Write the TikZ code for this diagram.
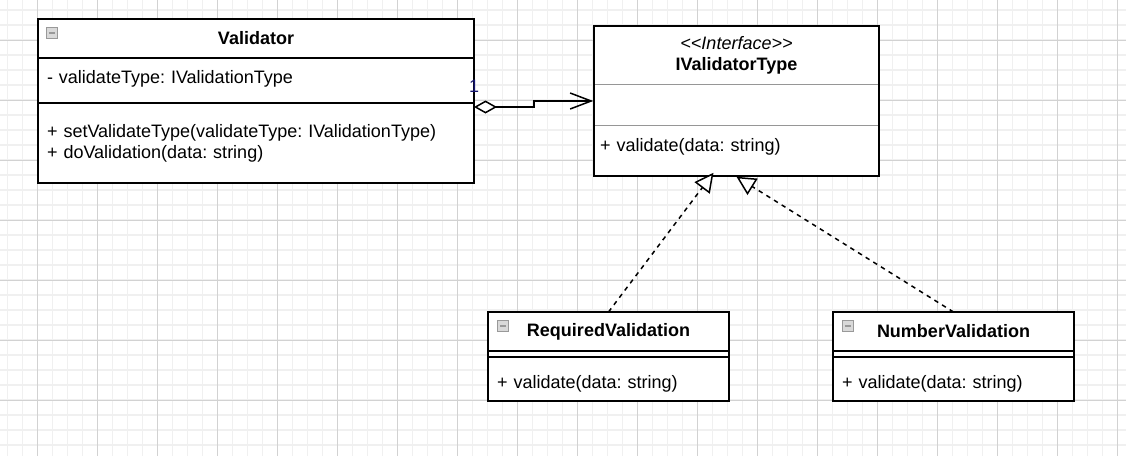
\documentclass[tikz,border=0pt]{standalone}
\usepackage{fontspec}
\setmainfont{Liberation Sans}
\usetikzlibrary{arrows.meta, positioning, fit}
\definecolor{gridminor}{RGB}{240,240,240}
\definecolor{gridmajor}{RGB}{210,210,210}
\definecolor{sepgray}{RGB}{150,150,150}
\definecolor{labelblue}{RGB}{20,20,110}
\frenchspacing

\begin{document}
\begin{tikzpicture}[x=1pt, y=-1pt, font=\fontsize{18}{21}\selectfont,
          head/.style={rectangle, draw=black, line width=1.5pt, fill=white, outer sep=0pt, inner sep=0pt, font=\fontsize{18}{21}\selectfont\bfseries},
          part/.style={rectangle, draw=black, line width=1.5pt, fill=white, outer sep=0pt, inner xsep=9pt, inner ysep=0pt, align=left},
          ihead/.style={rectangle, draw=sepgray, line width=0.8pt, fill=white, outer sep=0pt, inner sep=0pt, align=center},
          ipart/.style={rectangle, draw=sepgray, line width=0.8pt, fill=white, outer sep=0pt, inner xsep=6pt, inner ysep=0pt, align=left, minimum width=285pt},
          icon/.style={rectangle, draw=gray!80, fill=gray!30, line width=0.8pt, minimum size=11pt, inner sep=0pt,
            path picture={\draw [line width=1.8pt] ([xshift=2.5pt]path picture bounding box.west) -- ([xshift=-2.5pt]path picture bounding box.east);}},
          aggr/.style={{Diamond[fill=white, length=23pt, width=13pt]}-{Straight Barb[length=21pt, width=16pt]}, line width=1.5pt},
          gen/.style={-{Triangle[fill=white, length=19pt, width=19pt]}, line width=1.5pt, dash pattern=on 4.5pt off 4.5pt}]
        % background grid
        \useasboundingbox (0,0) rectangle (1126,456);
        \fill [white] (0,0) rectangle (1126,456);
        \foreach \gx in {7.5,22.5,...,1126} \draw [gridminor, line width=1.5pt] (\gx,0) -- (\gx,456);
        \foreach \gy in {10,25,...,456} \draw [gridminor, line width=1.5pt] (0,\gy) -- (1126,\gy);
        \foreach \gx in {37.5,97.5,...,1126} \draw [gridmajor, line width=1pt] (\gx,0) -- (\gx,456);
        \foreach \gy in {40,100,...,456} \draw [gridmajor, line width=1pt] (0,\gy) -- (1126,\gy);

        % Validator
        \node [head, minimum width=436pt, minimum height=39pt, anchor=north west] (val-head) at (38,19) {Validator};
        \node [part, minimum width=436pt, minimum height=45pt, text width=418pt, text depth=7pt, below=0pt of val-head] (val-attr) {- validateType: IValidationType};
        \node [part, minimum width=436pt, minimum height=80pt, text width=418pt, below=0pt of val-attr] (val-ops) {+ setValidateType(validateType: IValidationType)\\+ doValidation(data: string)};
        \node [icon, below right=8pt and 8pt of val-head.north west, anchor=north west] (val-icon) {};

        % IValidatorType
        \node [ihead, minimum width=285pt, minimum height=58pt, anchor=north west] (ivt-head) at (594,26) {\textit{\textless\kern0pt\textless Interface\textgreater\kern0pt\textgreater}\\\textbf{IValidatorType}};
        \node [ipart, minimum height=41pt, below=0pt of ivt-head] (ivt-attr) {};
        \node [ipart, minimum height=51pt, text width=273pt, text depth=11pt, below=0pt of ivt-attr] (ivt-ops) {+ validate(data: string)};
        \node [fit=(ivt-head)(ivt-ops), draw=black, line width=1.5pt, inner sep=0pt] (ivt) {};

        % RequiredValidation
        \node [head, minimum width=241pt, minimum height=39pt, anchor=north west] (req-head) at (488,312) {RequiredValidation};
        \node [part, minimum width=241pt, minimum height=6pt, below=0pt of req-head] (req-attr) {};
        \node [part, minimum width=241pt, minimum height=44pt, text width=223pt, text height=23pt, below=0pt of req-attr] (req-ops) {+ validate(data: string)};
        \node [icon, below right=8pt and 9pt of req-head.north west, anchor=north west] (req-icon) {};

        % NumberValidation
        \node [head, minimum width=241pt, minimum height=39pt, anchor=north west] (num-head) at (833,312) {NumberValidation};
        \node [part, minimum width=241pt, minimum height=6pt, below=0pt of num-head] (num-attr) {};
        \node [part, minimum width=241pt, minimum height=44pt, text width=223pt, text height=23pt, below=0pt of num-attr] (num-ops) {+ validate(data: string)};
        \node [icon, below right=8pt and 9pt of num-head.north west, anchor=north west] (num-icon) {};

        \draw [aggr] ([yshift=-4pt]val-ops.north east) node [anchor=south, inner sep=0pt, yshift=14pt, text=labelblue] (mult) {1} -- ++(60,0) |- (ivt.west);
        \draw [gen] (req-head.north) -- ([xshift=-23pt, yshift=4pt]ivt.south);
        \draw [gen] (num-head.north) -- (ivt.south);
      \end{tikzpicture}
\end{document}
